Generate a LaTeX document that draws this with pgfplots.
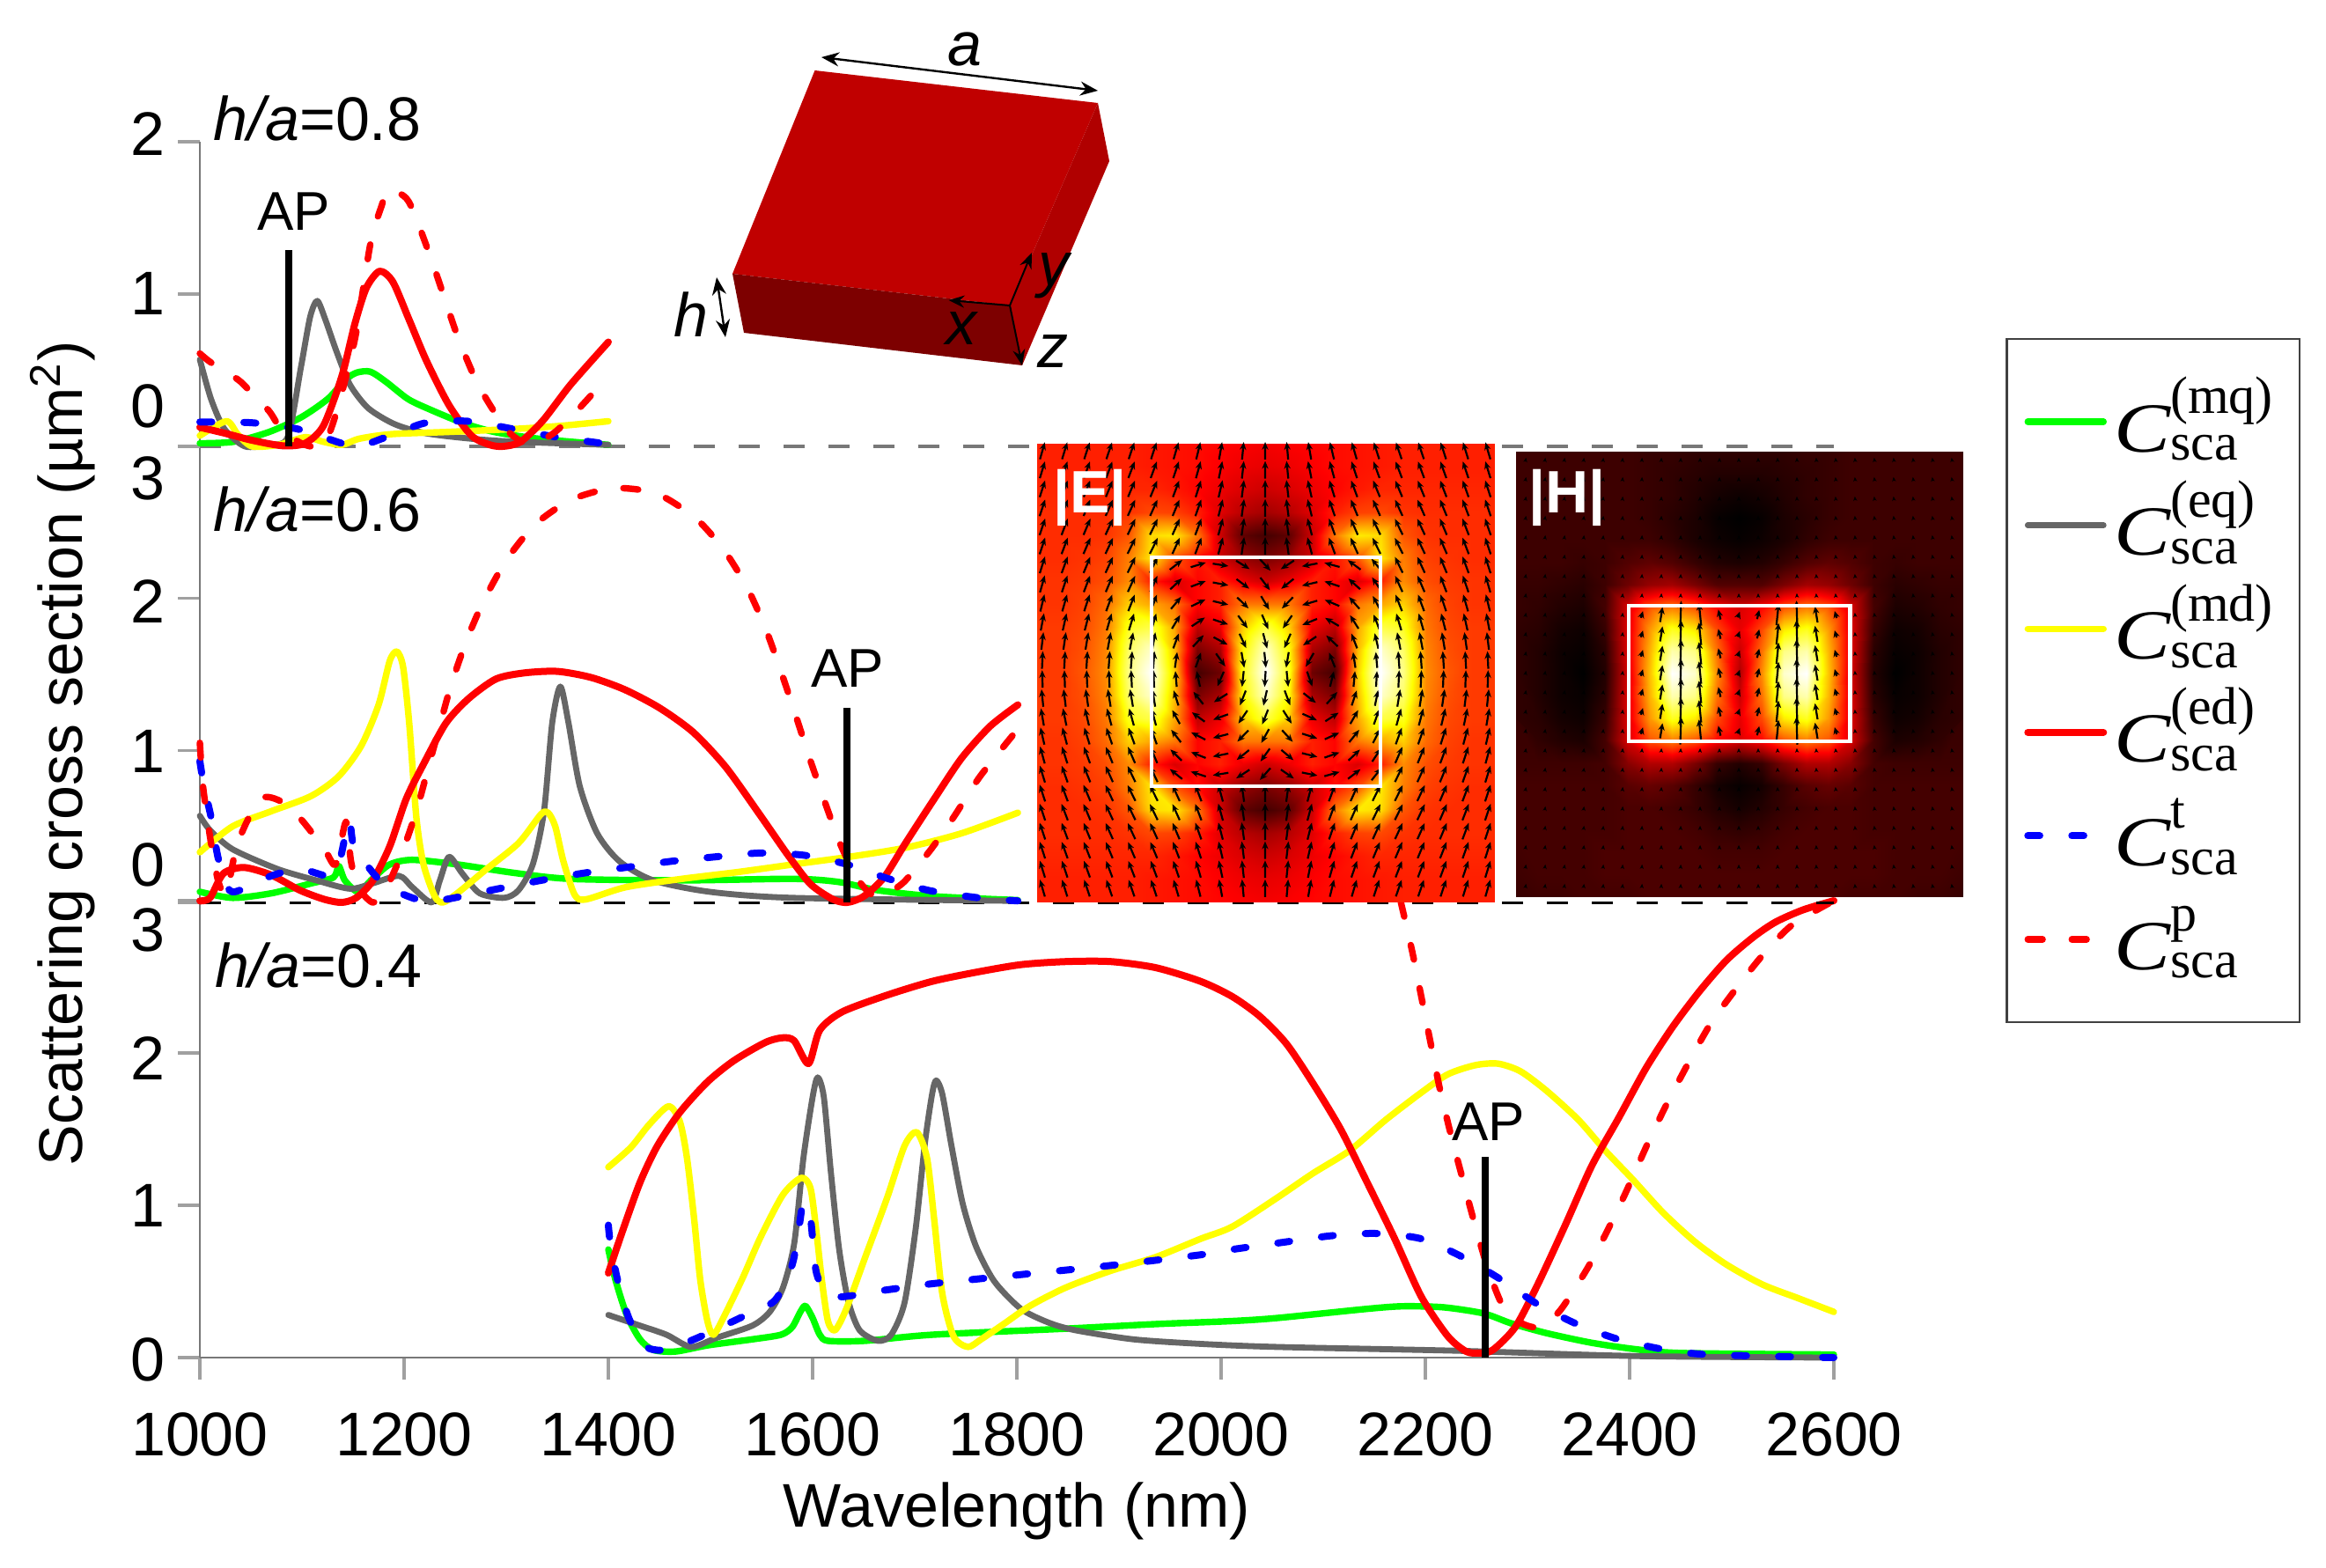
\documentclass[border=0pt]{standalone}
\usepackage{fontspec}
\usepackage{graphicx}
\usepackage{pgfplots}
\usepackage{pgfplotstable}
\pgfplotsset{compat=1.18}
\usetikzlibrary{arrows.meta}
\setmainfont{Liberation Sans}
\newfontfamily\ser{Liberation Serif}
\definecolor{cg}{RGB}{0,255,0}
\definecolor{cgr}{RGB}{102,102,102}
\definecolor{cy}{RGB}{255,255,0}
\definecolor{cr}{RGB}{255,0,0}
\definecolor{cb}{RGB}{0,0,255}
\definecolor{axg}{RGB}{120,120,120}
\newcommand\rl[2]{\raisebox{#1}[12.5pt][0pt]{#2}}
\newcommand\bigf{\fontsize{17.5}{20}\selectfont}
\newcommand\leg[1]{$\scalebox{1.2}[1]{\fontsize{20}{20}\selectfont\ser\itshape C}^{\hbox{\fontsize{15}{16}\selectfont\ser #1}}_{\hbox{\fontsize{15}{16}\selectfont\ser sca}}$}
\tikzset{
 ms/.style={line width=1.85pt,smooth,tension=0.45,line join=round,line cap=round},
 sg/.style={ms,cg},sgr/.style={ms,cgr,line width=1.7pt},sy/.style={ms,cy},
 sr/.style={ms,cr,line width=2pt},
 sb/.style={ms,cb,line width=2pt,dash pattern=on 3.4pt off 9.1pt},
 srd/.style={ms,cr,dash pattern=on 4.2pt off 8.3pt},
}
\pgfplotsset{
 base/.style={scale only axis,clip=false,width=464pt,xmin=1000,xmax=2600,
  axis line style={axg,line width=0.6pt,-},tick style={draw=axg!70,line width=0.9pt},
  major tick length=6.25pt,tick align=outside,ytick pos=left,
  ticklabel style={font=\bigf},},
 ap/.style={black,line width=2pt,forget plot},
 inset/.style={scale only axis,hide axis,view={0}{90},xmin=0,xmax=20,ymin=0,ymax=20,clip=true,
  point meta min=0,point meta max=1,
  colormap={hotb}{rgb(0pt)=(0,0,0) rgb(3pt)=(1,0,0) rgb(6pt)=(1,1,0) rgb(8pt)=(1,1,1)}},
 sh/.style={surf,shader=interp,mesh/cols=11,mesh/ordering=x varies},
}
\pgfplotstableread{
v a b
.42 0 0
.42 0 0
.42 0 0
.42 0 0
.42 0 0
.41 0 0
.40 0 0
.39 0 0
.38 0 0
.37 0 0
.36 0 0
.42 0 0
.42 0 0
.42 0 0
.42 0 0
.42 0 0
.41 0 0
.40 0 0
.39 0 0
.37 0 0
.35 0 0
.34 0 0
.43 0 0
.43 0 0
.43 0 0
.43 0 0
.43 0 0
.43 0 0
.41 0 0
.38 0 0
.35 0 0
.32 0 0
.30 0 0
.44 0 0
.44 0 0
.44 0 0
.44 0 0
.45 0 0
.48 0 0
.47 0 0
.42 0 0
.33 0 0
.27 0 0
.24 0 0
.44 0 0
.44 0 0
.44 0 0
.45 0 0
.50 0 0
.70 0 0
.72 0 0
.55 0 0
.30 0 0
.14 0 0
.10 0 0
.44 0 0
.44 0 0
.45 0 0
.47 0 0
.56 0 0
.72 0 0
.50 0 0
.40 0 0
.30 0 0
.22 0 0
.18 0 0
.45 0 0
.45 0 0
.46 0 0
.49 0 0
.58 0 0
.42 0 0
.32 0 0
.38 0 0
.42 0 0
.35 0 0
.30 0 0
.45 0 0
.45 0 0
.47 0 0
.53 0 0
.68 0 0
.62 0 0
.55 0 0
.38 0 0
.42 0 0
.55 0 0
.55 0 0
.46 0 0
.46 0 0
.48 0 0
.55 0 0
.78 0 0
.82 0 0
.62 0 0
.28 0 0
.35 0 0
.68 0 0
.82 0 0
.46 0 0
.46 0 0
.49 0 0
.57 0 0
.85 0 0
.95 0 0
.65 0 0
.18 0 0
.25 0 0
.75 0 0
.95 0 0
.46 0 0
.46 0 0
.50 0 0
.58 0 0
.88 0 0
1.0 0 0
.68 0 0
.10 0 0
.16 0 0
.78 0 0
1.0 0 0
}\Eq
\pgfplotstableread{
v a b
.09 0 0
.09 0 0
.09 0 0
.09 0 0
.09 0 0
.09 0 0
.08 0 0
.08 0 0
.07 0 0
.07 0 0
.07 0 0
.09 0 0
.09 0 0
.09 0 0
.09 0 0
.09 0 0
.09 0 0
.08 0 0
.07 0 0
.06 0 0
.05 0 0
.05 0 0
.09 0 0
.09 0 0
.09 0 0
.09 0 0
.09 0 0
.09 0 0
.08 0 0
.07 0 0
.05 0 0
.03 0 0
.02 0 0
.09 0 0
.09 0 0
.09 0 0
.09 0 0
.09 0 0
.09 0 0
.08 0 0
.06 0 0
.04 0 0
.01 0 0
0 0 0
.09 0 0
.09 0 0
.09 0 0
.09 0 0
.09 0 0
.09 0 0
.09 0 0
.07 0 0
.04 0 0
.02 0 0
.01 0 0
.09 0 0
.09 0 0
.09 0 0
.08 0 0
.09 0 0
.12 0 0
.14 0 0
.12 0 0
.08 0 0
.05 0 0
.04 0 0
.08 0 0
.08 0 0
.07 0 0
.06 0 0
.09 0 0
.16 0 0
.22 0 0
.24 0 0
.18 0 0
.12 0 0
.12 0 0
.08 0 0
.07 0 0
.05 0 0
.04 0 0
.10 0 0
.32 0 0
.50 0 0
.56 0 0
.50 0 0
.38 0 0
.32 0 0
.07 0 0
.06 0 0
.03 0 0
.02 0 0
.08 0 0
.33 0 0
.60 0 0
.78 0 0
.72 0 0
.48 0 0
.34 0 0
.07 0 0
.05 0 0
.02 0 0
.01 0 0
.06 0 0
.33 0 0
.64 0 0
.92 0 0
.88 0 0
.54 0 0
.30 0 0
.07 0 0
.05 0 0
.02 0 0
0 0 0
.05 0 0
.32 0 0
.66 0 0
1.0 0 0
.95 0 0
.58 0 0
.26 0 0
.07 0 0
.05 0 0
.02 0 0
.01 0 0
.06 0 0
.33 0 0
.64 0 0
.92 0 0
.88 0 0
.54 0 0
.30 0 0
.07 0 0
.06 0 0
.03 0 0
.02 0 0
.08 0 0
.33 0 0
.60 0 0
.78 0 0
.72 0 0
.48 0 0
.34 0 0
.08 0 0
.07 0 0
.05 0 0
.04 0 0
.10 0 0
.32 0 0
.50 0 0
.56 0 0
.50 0 0
.38 0 0
.32 0 0
.09 0 0
.09 0 0
.09 0 0
.09 0 0
.10 0 0
.20 0 0
.26 0 0
.26 0 0
.18 0 0
.08 0 0
.05 0 0
.10 0 0
.10 0 0
.10 0 0
.10 0 0
.10 0 0
.13 0 0
.15 0 0
.13 0 0
.08 0 0
.03 0 0
.01 0 0
.10 0 0
.10 0 0
.10 0 0
.10 0 0
.10 0 0
.11 0 0
.11 0 0
.10 0 0
.08 0 0
.05 0 0
.03 0 0
.10 0 0
.10 0 0
.10 0 0
.10 0 0
.10 0 0
.11 0 0
.11 0 0
.11 0 0
.10 0 0
.08 0 0
.07 0 0
.10 0 0
.10 0 0
.10 0 0
.10 0 0
.11 0 0
.11 0 0
.11 0 0
.11 0 0
.11 0 0
.10 0 0
.10 0 0
.09 0 0
.10 0 0
.10 0 0
.10 0 0
.11 0 0
.11 0 0
.11 0 0
.11 0 0
.11 0 0
.11 0 0
.11 0 0
.08 0 0
.09 0 0
.09 0 0
.10 0 0
.10 0 0
.10 0 0
.11 0 0
.11 0 0
.11 0 0
.11 0 0
.11 0 0
}\Hq
\begin{document}
\begin{tikzpicture}
\path (0,0) rectangle (660.5pt,445pt);
% panel h/a=0.4
\begin{axis}[base,at={(56.75pt,59.5pt)},anchor=origin,height=129.75pt,ymin=0,ymax=3,
 axis x line*=bottom,axis y line*=left,
 xtick={1000,1200,...,2600},/pgf/number format/1000 sep={},/pgf/number format/assume math mode=true,
 xticklabel style={yshift=-5.75pt},
 ytick={0,1,2,3},yticklabels={\rl{-.25pt}{0},\rl{.25pt}{1},\rl{-1.25pt}{2},\rl{-8pt}{3}},
 xlabel={Wavelength (nm)},xlabel style={font=\bigf,at={(axis description cs:0.500,0)},anchor=north,yshift=-31.8pt},
 legend style={at={(1.105,2.232)},anchor=north west,draw=black!75,line width=0.7pt,cells={anchor=west},
  row sep=0.4pt,inner xsep=5pt,inner ysep=9pt,nodes={text height=21pt,text depth=4pt}},
 legend image code/.code={\draw[#1] (0pt,0pt) -- (21.5pt,0pt);},
]
\addplot[sg] coordinates {(1400,.71)(1407,.51)(1418,.28)(1431,.12)(1444,.05)(1466,.04)(1497,.08)(1541,.12)(1569,.15)(1580,.20)(1588,.30)(1593,.34)(1600,.26)(1607,.15)(1615,.11)(1651,.11)(1717,.15)(1848,.19)(1936,.22)(2011,.24)(2055,.26)(2143,.32)(2178,.337)(2218,.33)(2257,.29)(2284,.225)(2319,.16)(2363,.097)(2407,.054)(2451,.03)(2600,.02)};
\addlegendentry{\leg{(mq)}}
\addplot[sgr] coordinates {(1400,.28)(1431,.21)(1457,.15)(1481,.07)(1506,.13)(1541,.21)(1558,.30)(1571,.46)(1582,.75)(1591,1.31)(1600,1.71)(1605,1.84)(1611,1.71)(1618,1.21)(1626,.71)(1635,.37)(1646,.18)(1664,.11)(1677,.15)(1690,.36)(1701,.85)(1710,1.41)(1717,1.73)(1721,1.82)(1727,1.73)(1736,1.39)(1747,1.01)(1760,.73)(1778,.50)(1804,.32)(1831,.23)(1857,.18)(1914,.12)(1980,.09)(2054,.07)(2231,.045)(2407,.01)(2600,0)};
\addlegendentry{\leg{(eq)}}
\addplot[sy] coordinates {(1400,1.25)(1422,1.38)(1440,1.53)(1459,1.65)(1470,1.55)(1477,1.31)(1484,.91)(1490,.51)(1497,.24)(1503,.15)(1514,.28)(1532,.53)(1549,.79)(1571,1.07)(1589,1.18)(1598,1.11)(1604,.81)(1609,.51)(1615,.24)(1622,.18)(1633,.32)(1651,.65)(1673,1.05)(1690,1.39)(1702,1.48)(1712,1.31)(1719,.91)(1727,.42)(1738,.14)(1752,.07)(1765,.12)(1787,.22)(1813,.34)(1848,.46)(1892,.57)(1936,.66)(1980,.78)(2011,.86)(2055,1.05)(2090,1.21)(2126,1.36)(2161,1.56)(2196,1.74)(2222,1.86)(2249,1.92)(2271,1.93)(2293,1.88)(2319,1.75)(2350,1.56)(2376,1.36)(2403,1.17)(2433,.95)(2464,.76)(2495,.61)(2530,.48)(2565,.39)(2600,.30)};
\addlegendentry{\leg{(md)}}
\addplot[sr] coordinates {(1400,.555)(1413,.814)(1431,1.15)(1448,1.39)(1470,1.61)(1497,1.81)(1523,1.95)(1554,2.07)(1571,2.10)(1582,2.08)(1596,1.93)(1607,2.15)(1629,2.27)(1673,2.38)(1717,2.47)(1760,2.53)(1804,2.58)(1848,2.60)(1892,2.60)(1936,2.56)(1980,2.47)(2011,2.37)(2038,2.24)(2064,2.06)(2090,1.80)(2117,1.50)(2143,1.15)(2170,.78)(2196,.40)(2222,.14)(2240,.04)(2253,.03)(2266,.05)(2288,.20)(2310,.48)(2337,.87)(2363,1.26)(2389,1.57)(2416,1.90)(2442,2.17)(2469,2.41)(2495,2.61)(2521,2.76)(2543,2.86)(2570,2.94)(2600,3.00)};
\addlegendentry{\leg{(ed)}}
\addplot[sb] coordinates {(1400,.87)(1402,.75)(1409,.51)(1420,.26)(1435,.08)(1453,.05)(1484,.12)(1532,.27)(1563,.375)(1580,.61)(1587,.87)(1591,1.02)(1598,.91)(1604,.55)(1620,.40)(1673,.445)(1717,.485)(1804,.545)(1892,.605)(1980,.675)(2011,.71)(2064,.76)(2108,.80)(2152,.815)(2196,.78)(2235,.665)(2271,.525)(2310,.35)(2350,.215)(2389,.12)(2433,.054)(2477,.02)(2600,0)};
\addlegendentry{\leg{t}}
\addplot[srd] coordinates {(2176,2.99)(2187,2.67)(2196,2.37)(2205,2.07)(2214,1.77)(2224,1.49)(2235,1.21)(2247,.91)(2260,.61)(2275,.35)(2293,.23)(2312,.20)(2332,.31)(2359,.59)(2381,.87)(2398,1.11)(2418,1.41)(2436,1.66)(2458,1.94)(2480,2.20)(2504,2.42)(2530,2.64)(2559,2.84)(2600,3.0)};
\addlegendentry{\leg{p}}
\addplot[ap] coordinates {(2259,0)(2259,1.32)};
\node[font=\fontsize{15.5}{17}\selectfont] at (axis cs:2262,1.55) {AP};
\node[font=\bigf,anchor=base west,inner sep=0pt] at (axis cs:1014,2.43) {\textit{h/a}=0.4};
\end{axis}
% panel h/a=0.6
\begin{axis}[base,at={(56.75pt,188.75pt)},anchor=origin,height=129.5pt,ymin=0,ymax=3,
 hide x axis,axis y line*=left,
 ytick={0,1,2,3},yticklabels={\rl{11pt}{0},\rl{0pt}{1},\rl{-.75pt}{2},\rl{-8.75pt}{3}},
 ylabel={Scattering cross section (µm\textsuperscript{2})},
 ylabel style={font=\bigf,at={(axis description cs:-0.084,0.326)},anchor=center},
]
\addplot[black,line width=0.75pt,dash pattern=on 6pt off 6.75pt,forget plot] coordinates {(1000,0)(2600,0)};
\addplot[sg] coordinates {(1000,.07)(1032,.03)(1070,.06)(1109,.125)(1131,.165)(1136,.24)(1142,.145)(1155,.07)(1169,.155)(1186,.25)(1208,.28)(1252,.25)(1307,.195)(1362,.155)(1472,.145)(1581,.155)(1625,.135)(1664,.08)(1719,.04)(1801,.015)};
\addplot[sgr] coordinates {(1000,.57)(1010,.475)(1032,.35)(1076,.22)(1114,.145)(1147,.09)(1169,.125)(1195,.175)(1208,.10)(1227,0)(1235,.145)(1244,.30)(1257,.19)(1274,.06)(1298,.03)(1312,.08)(1326,.25)(1337,.60)(1345,1.18)(1353,1.42)(1361,1.18)(1372,.765)(1389,.455)(1411,.27)(1444,.145)(1499,.07)(1581,.03)(1801,.01)};
\addplot[sy] coordinates {(1000,.33)(1032,.50)(1070,.60)(1109,.70)(1136,.83)(1158,1.03)(1175,1.30)(1186,1.59)(1193,1.65)(1199,1.55)(1205,1.18)(1212,.56)(1219,.25)(1230,.04)(1238,0)(1252,.06)(1279,.21)(1312,.39)(1334,.58)(1341,.59)(1348,.50)(1356,.27)(1367,.05)(1378,.02)(1417,.10)(1472,.155)(1527,.20)(1581,.25)(1636,.30)(1691,.36)(1746,.455)(1801,.59)};
\addplot[sr] coordinates {(1000,.01)(1010,.03)(1023,.19)(1043,.23)(1070,.18)(1098,.08)(1122,.02)(1139,0)(1153,.03)(1169,.14)(1186,.37)(1202,.68)(1219,.91)(1241,1.18)(1263,1.34)(1290,1.47)(1318,1.51)(1350,1.52)(1383,1.48)(1416,1.40)(1450,1.28)(1483,1.12)(1515,.89)(1548,.58)(1576,.31)(1598,.12)(1620,.02)(1634,0)(1650,.04)(1670,.165)(1691,.39)(1719,.68)(1746,.95)(1774,1.16)(1801,1.30)};
\addplot[sb] coordinates {(1000,.93)(1004,.765)(1011,.56)(1018,.29)(1029,.08)(1043,.09)(1070,.175)(1098,.22)(1125,.175)(1136,.25)(1146,.54)(1150,.39)(1161,.27)(1175,.155)(1197,.06)(1219,.01)(1241,.02)(1285,.08)(1334,.145)(1378,.195)(1417,.23)(1461,.27)(1505,.30)(1549,.325)(1592,.31)(1634,.25)(1670,.165)(1713,.08)(1763,.03)(1801,.01)};
\addplot[srd] coordinates {(1000,1.05)(1003,.77)(1010,.43)(1018,.14)(1026,.06)(1037,.39)(1059,.68)(1081,.66)(1100,.54)(1122,.35)(1133,.25)(1143,.53)(1148,.27)(1155,.10)(1169,0)(1180,.06)(1197,.31)(1212,.60)(1223,.87)(1234,1.14)(1246,1.43)(1261,1.72)(1278,1.985)(1301,2.26)(1329,2.49)(1364,2.65)(1405,2.725)(1447,2.69)(1485,2.53)(1513,2.32)(1536,2.07)(1554,1.80)(1569,1.52)(1583,1.24)(1597,.95)(1612,.66)(1628,.37)(1645,.145)(1661,.04)(1678,.08)(1691,.145)(1716,.35)(1738,.56)(1763,.82)(1790,1.05)(1801,1.14)};
\addplot[ap] coordinates {(1634,0)(1634,1.28)};
\node[font=\fontsize{15.5}{17}\selectfont] at (axis cs:1634,1.54) {AP};
\node[font=\bigf,anchor=base west,inner sep=0pt] at (axis cs:1013,2.44) {\textit{h/a}=0.6};
\end{axis}
% panel h/a=0.8
\begin{axis}[base,at={(56.75pt,318.25pt)},anchor=origin,height=86.5pt,ymin=0,ymax=2,
 hide x axis,axis y line*=left,
 ytick={0,1,2},yticklabels={\rl{11.5pt}{0},\rl{.25pt}{1},\rl{2.25pt}{2}},
]
\addplot[axg,line width=1pt,dash pattern=on 6pt off 6.75pt,forget plot] coordinates {(1000,0)(2600,0)};
\addplot[sg] coordinates {(1000,.02)(1033,.03)(1068,.095)(1099,.19)(1125,.31)(1143,.44)(1154,.485)(1167,.49)(1182,.425)(1204,.31)(1226,.24)(1257,.155)(1288,.095)(1332,.05)(1400,.01)};
\addplot[sgr] coordinates {(1000,.57)(1011,.31)(1024,.115)(1044,0)(1068,.01)(1086,.06)(1099,.52)(1108,.85)(1115,.955)(1123,.83)(1134,.62)(1147,.405)(1165,.25)(1191,.145)(1222,.085)(1266,.05)(1310,.03)(1400,.01)};
\addplot[sy] coordinates {(1000,.07)(1026,.165)(1037,.08)(1051,0)(1077,.01)(1103,.06)(1121,.03)(1139,.01)(1156,.05)(1187,.08)(1244,.095)(1310,.115)(1354,.135)(1400,.165)};
\addplot[sr] coordinates {(1000,.125)(1024,.087)(1051,.04)(1081,.004)(1103,.02)(1121,.135)(1139,.46)(1152,.81)(1163,1.04)(1176,1.15)(1189,1.08)(1205,.83)(1222,.56)(1244,.27)(1266,.07)(1284,.01)(1297,0)(1314,.03)(1336,.17)(1363,.405)(1400,.685)};
\addplot[sb] coordinates {(1000,.16)(1051,.155)(1095,.115)(1121,.06)(1139,.02)(1156,0)(1178,.05)(1200,.105)(1222,.155)(1262,.165)(1306,.115)(1350,.06)(1400,.015)};
\addplot[srd] coordinates {(1000,.61)(1011,.55)(1037,.44)(1048,.37)(1068,.23)(1081,.10)(1103,.01)(1121,.01)(1134,.23)(1152,.71)(1167,1.33)(1178,1.58)(1185,1.69)(1202,1.63)(1211,1.51)(1226,1.24)(1240,.965)(1253,.71)(1271,.425)(1288,.23)(1303,.09)(1323,.01)(1345,.08)(1363,.19)(1385,.35)(1394,.44)};
\addplot[ap] coordinates {(1087,0)(1087,1.29)};
\node[font=\fontsize{15.5}{17}\selectfont] at (axis cs:1092,1.54) {AP};
\node[font=\bigf,anchor=base west,inner sep=0pt] at (axis cs:1013,2.01) {\textit{h/a}=0.8};
\end{axis}
% field maps
\begin{axis}[inset,at={(294.5pt,189pt)},anchor=south west,width=130pt,height=130pt]
\addplot3[sh] table[x expr={mod(\coordindex,11)},y expr={20-floor(\coordindex/11)},z=v] {\Eq};
\addplot3[sh] table[x expr={20-mod(\coordindex,11)},y expr={20-floor(\coordindex/11)},z=v] {\Eq};
\addplot3[sh] table[x expr={mod(\coordindex,11)},y expr={floor(\coordindex/11)},z=v] {\Eq};
\addplot3[sh] table[x expr={20-mod(\coordindex,11)},y expr={floor(\coordindex/11)},z=v] {\Eq};
\end{axis}
\begin{axis}[inset,at={(430.5pt,190.4pt)},anchor=south west,width=126.75pt,height=126.5pt]
\addplot3[sh] table[x expr={mod(\coordindex,11)},y expr={20-floor(\coordindex/11)},z=v] {\Hq};
\addplot3[sh] table[x expr={20-mod(\coordindex,11)},y expr={20-floor(\coordindex/11)},z=v] {\Hq};
\end{axis}
\begin{scope}[x=0.25pt,y=-0.25pt,shift={(0pt,445pt)}]
% E arrows
\foreach \i in {0,...,20}{\foreach \j in {0,...,23}{
 \pgfmathsetmacro\X{1184+\i*25.3}\pgfmathsetmacro\Y{512+\j*21.6}
 \pgfmathtruncatemacro\ins{and(and(\X>1312,\X<1564),and(\Y>637,\Y<889))}
 \ifnum\ins=1
  \pgfmathsetmacro\s{\X<1438?1:-1}
  \pgfmathsetmacro\cx{\X<1438?1378:1498}
  \pgfmathsetmacro\vx{-\s*(\Y-763)*0.45}
  \pgfmathsetmacro\vy{\s*(\X-\cx)}
  \pgfmathsetmacro\n{max(sqrt(\vx*\vx+\vy*\vy),1)}
  \pgfmathsetmacro\dx{9*\vx/\n}\pgfmathsetmacro\dy{9*\vy/\n}
 \else
  \pgfmathsetmacro\ax{(1438-\X)/100}\pgfmathsetmacro\ay{(763-\Y)/100}
  \pgfmathsetmacro\rr{(\ax*\ax+\ay*\ay)/4}
  \pgfmathsetmacro\t{0.5*\ax*\ay/(1+\rr*\rr)}
  \pgfmathsetmacro\n{sqrt(1+\t*\t)}
  \pgfmathsetmacro\dx{10*\t/\n}\pgfmathsetmacro\dy{-10/\n}
 \fi
 \draw[black,line width=0.55pt,-{Stealth[length=2.2pt,width=1.8pt]}] (\X-\dx,\Y-\dy) -- (\X+\dx,\Y+\dy);
}}
\draw[white,line width=1.1pt] (1308,633) rectangle (1568,893);
\node[white,font=\bfseries\fontsize{17}{19}\selectfont,anchor=center,inner sep=0pt] at (1238,565) {|E|};
% H arrows
\foreach \i in {0,...,22}{\foreach \j in {0,...,22}{
 \pgfmathsetmacro\X{1733+\i*22}\pgfmathsetmacro\Y{522+\j*22}
 \pgfmathtruncatemacro\ins{and(and(\X>1854,\X<2098),and(\Y>692,\Y<838))}
 \ifnum\ins=1
  \pgfmathsetmacro\L{3+13*exp(-((abs(\X-1975.8)-61)/30)^2)}
  \pgfmathsetmacro\dx{\L*0.006*(\X-(\X<1975?1914:2036))}
  \draw[black,line width=0.55pt,-{Stealth[length=2pt,width=1.8pt]}] (\X+\dx,\Y+\L) -- (\X-\dx,\Y-\L);
 \else
  \pgfmathsetmacro\L{2.2}
  \pgfmathsetmacro\dx{0.0015*(\X-1975.8)}
  \draw[black,line width=0.3pt,-{Stealth[length=1.3pt,width=1.1pt]}] (\X+\dx,\Y+\L) -- (\X-\dx,\Y-\L);
 \fi
}}
\draw[white,line width=1.1pt] (1850,688) rectangle (2101.6,842);
\node[white,font=\bfseries\fontsize{17}{19}\selectfont,anchor=center,inner sep=0pt] at (1780,565) {|H|};
% cube
\fill[fill={rgb,255:red,192;green,0;blue,0}] (925.5,80)--(1247,117)--(1147,347)--(832,311)--cycle;
\fill[fill={rgb,255:red,176;green,0;blue,0}] (1247,117)--(1260,183)--(1161,415)--(1147,347)--cycle;
\fill[fill={rgb,255:red,125;green,0;blue,0}] (832,311)--(1147,347)--(1161,415)--(845,378)--cycle;
\draw[black,line width=0.6pt,{Stealth[length=5pt,width=4pt]}-{Stealth[length=5pt,width=4pt]}] (933,65)--(1247,103);
\draw[black,line width=0.6pt,{Stealth[length=5pt,width=4pt]}-{Stealth[length=5pt,width=4pt]}] (814,315)--(824,383);
\draw[black,line width=0.5pt,-{Stealth[length=4.5pt,width=3.5pt]}] (1147,347)--(1077.5,341);
\draw[black,line width=0.5pt,-{Stealth[length=4.5pt,width=3.5pt]}] (1147,347)--(1172,287);
\draw[black,line width=0.5pt,-{Stealth[length=4.5pt,width=3.5pt]}] (1147,347)--(1161,415);
\node[font=\itshape\bigf] at (1096,56) {a};
\node[font=\itshape\bigf] at (785,357) {h};
\node[font=\itshape\bigf] at (1092,373) {x};
\node[font=\itshape\bigf] at (1197,313) {y};
\node[font=\itshape\bigf] at (1196,399) {z};
\end{scope}
\end{tikzpicture}
\end{document}
